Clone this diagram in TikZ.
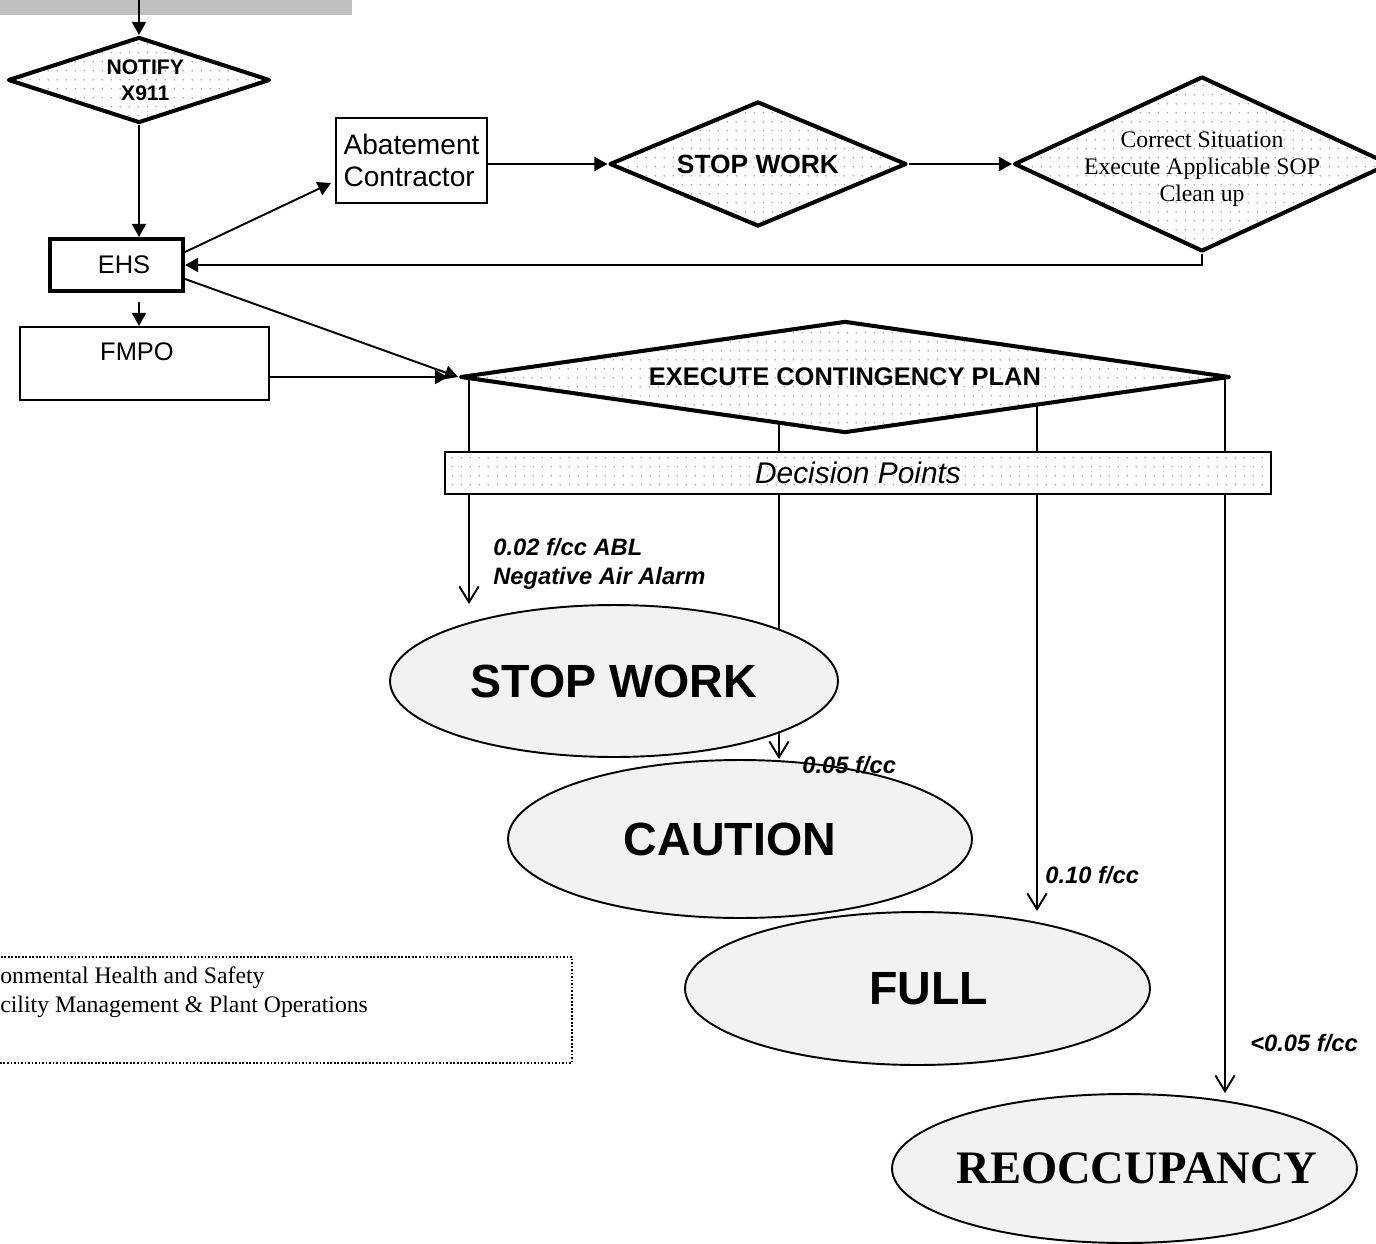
\documentclass[tikz,border=0pt]{standalone}
\usepackage{fontspec}
\setmainfont{Liberation Serif}
\newfontfamily\arialf{Liberation Sans}
\usetikzlibrary{shapes.geometric,arrows.meta,patterns.meta,backgrounds}
\definecolor{bargray}{HTML}{C0C0C0}
\definecolor{ovalgray}{HTML}{F2F2F2}
\tikzdeclarepattern{
  name=sparsedots,
  type=uncolored,
  bottom left={(0pt,0pt)},
  top right={(5pt,5pt)},
  tile size={(5pt,5pt)},
  code={\pgfpathcircle{\pgfqpoint{2.5pt}{2.5pt}}{0.5pt}\pgfusepath{fill}}
}
\begin{document}
\begin{tikzpicture}[x=0.02cm, y=-0.02cm,
  conn/.style={line width=1.1pt},
  solid head/.style={conn, -{Triangle[length=7.5pt,width=8pt]}},
  open head/.style={conn, -{Straight Barb[length=9pt,width=11pt]}},
  dotfill/.style={preaction={fill=white}, pattern=sparsedots, pattern color=black!35},
  decision/.style={diamond, draw, line width=2.3pt, line join=round, dotfill, inner sep=0pt},
  plainbox/.style={rectangle, draw, line width=1.1pt, inner sep=0pt},
  outcome/.style={ellipse, draw, line width=1.1pt, fill=ovalgray, inner sep=0pt,
    font=\arialf\bfseries\fontsize{26.5}{30}\selectfont},
  limitlbl/.style={font=\arialf\bfseries\itshape\fontsize{13.5}{16.4}\selectfont, align=left, inner sep=0pt}
]
\useasboundingbox (0,0) rectangle (1376,1244);
%
\node[fill=bargray, minimum width=7.04cm, minimum height=0.3cm, inner sep=0pt] (head) at (176,7.5) {};
%
\node[decision, minimum width=5.24cm, minimum height=1.72cm, shape aspect=3, align=center,
      font=\arialf\bfseries\fontsize{12}{14.7}\selectfont] (notify) at (139,80) {\hspace*{0.25cm}NOTIFY\\\hspace*{0.25cm}X911};
\node[plainbox, line width=2.3pt, minimum width=2.66cm, minimum height=1.04cm,
      font=\arialf\fontsize{14.5}{17}\selectfont] (ehs) at (116.5,265) {\makebox[0pt]{\hspace*{0.3cm}EHS}};
\node[plainbox, minimum width=4.98cm, minimum height=1.46cm, text depth=14pt,
      font=\arialf\fontsize{14.5}{17}\selectfont] (fmpo) at (144.5,363.5) {\makebox[0pt]{FMPO\hspace*{0.3cm}}};
\node[plainbox, minimum width=3.02cm, minimum height=1.7cm, align=left,
      font=\arialf\fontsize{16}{18.7}\selectfont] (abate) at (411.5,160.5) {Abatement\\Contractor};
%
\node[decision, minimum width=5.94cm, minimum height=2.5cm, shape aspect=2.4,
      font=\arialf\bfseries\fontsize{15}{18}\selectfont] (sw) at (758,164) {STOP WORK};
\node[decision, minimum width=7.52cm, minimum height=3.5cm, shape aspect=2.15] (fix) at (1202,164) {};
\node[align=center, inner sep=0pt, font=\fontsize{13.5}{15.5}\selectfont] (fixtext)
      at ([yshift=-0.1cm]fix.center) {Correct Situation\\Execute Applicable SOP\\Clean up};
%
\node[decision, minimum width=15.4cm, minimum height=2.24cm, shape aspect=6.9,
      font=\arialf\bfseries\fontsize{14.5}{17}\selectfont] (ecp) at (845,377) {EXECUTE CONTINGENCY PLAN};
\node[rectangle, draw, line width=1.1pt, dotfill, minimum width=16.52cm, minimum height=0.84cm,
      font=\arialf\itshape\fontsize{17}{20}\selectfont] (dp) at (858,473) {Decision Points};
%
\node[outcome, minimum width=8.96cm, minimum height=3.04cm] (stopw) at (614,681) {STOP WORK};
\node[outcome, minimum width=9.28cm, minimum height=3.16cm] (caution) at (740,839) {\makebox[0pt]{CAUTION\hspace*{0.4cm}}};
\node[outcome, minimum width=9.3cm, minimum height=3.06cm] (full) at (917.5,988.5) {\makebox[0pt]{\hspace*{0.44cm}FULL}};
\node[outcome, minimum width=9.3cm, minimum height=2.98cm,
      font=\bfseries\fontsize{26.5}{30}\selectfont] (reocc) at (1124.5,1168.5) {\makebox[0pt]{\hspace*{0.5cm}REOCCUPANCY}};
%
\draw[solid head] (notify.north |- head.north) -- (notify.north);
\draw[solid head] (notify.south) -- (notify.south |- ehs.north);
\draw[solid head] ([yshift=-0.18cm]notify.south |- ehs.south) -- (notify.south |- fmpo.north);
\draw[solid head] ([yshift=0.26cm]ehs.east) -- ([xshift=-0.08cm,yshift=-0.45cm]abate.west);
\draw[solid head] (abate.east |- sw.west) -- (sw.west);
\draw[solid head] (sw.east) -- (fix.west);
\draw[solid head] (fix.south) |- (ehs.east);
\draw[solid head] ([yshift=-0.28cm]ehs.east) -- (ecp.west);
\draw[solid head] (fmpo.east |- ecp.west) -- ([xshift=-0.2cm]ecp.west);
%
\coordinate (colA) at (469,0);
\coordinate (colB) at (779,0);
\coordinate (colC) at (1037,0);
\coordinate (colD) at (1225,0);
\begin{scope}[on background layer]
\foreach \col/\goal in {colA/stopw, colB/caution, colC/full, colD/reocc}
  {
  \draw[conn] (ecp.center -| \col) -- (dp.north -| \col);
  \draw[open head] (dp.south -| \col) -- (\goal.north -| \col);
  }
\end{scope}
%
\node[limitlbl, anchor=west] (lvlA) at (493,564) {0.02 f/cc ABL\\Negative Air Alarm};
\node[limitlbl, anchor=west] (lvlB) at (802,765) {0.05 f/cc};
\node[limitlbl, anchor=west] (lvlC) at (1045,875) {0.10 f/cc};
\node[limitlbl, anchor=west] (lvlD) at (1250,1043) {<0.05 f/cc};
%
\draw[densely dotted, line width=1pt] (-10,957) rectangle (572,1063);
\node[anchor=base west, inner sep=0pt, font=\fontsize{13.5}{16}\selectfont] (legA) at (0,983) {onmental Health and Safety};
\node[anchor=base west, inner sep=0pt, font=\fontsize{13.5}{16}\selectfont] (legB) at (0,1012) {cility Management \& Plant Operations};
\end{tikzpicture}
\end{document}
